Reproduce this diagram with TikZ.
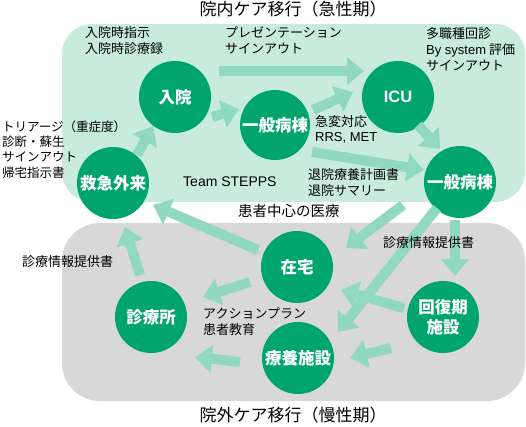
\documentclass[tikz,border=0pt]{standalone}
\usepackage{fontspec}
\setmainfont{Noto Sans CJK JP}
\newfontfamily\latin{Liberation Sans}
\usetikzlibrary{arrows.meta}
\definecolor{acutebg}{RGB}{200,235,221}
\definecolor{chronicbg}{RGB}{216,216,216}
\definecolor{flowgreen}{RGB}{145,216,192}
\definecolor{wardgreen}{RGB}{0,165,110}

\begin{document}
\begin{tikzpicture}[x=1pt, y=-1pt,
    ward/.style={circle, fill=wardgreen, minimum size=72pt, inner sep=0pt, text=white,
      align=center, font=\fontsize{16.5}{20}\selectfont\bfseries},
    flow/.style={flowgreen, line width=10pt, -{Triangle[length=17pt, width=27pt]}},
    note/.style={anchor=north west, inner sep=0pt, align=left,
      font=\fontsize{13}{15.5}\selectfont},
    title/.style={anchor=base, inner sep=0pt, font=\fontsize{17}{20}\selectfont}]
    \useasboundingbox (0,0) rectangle (526,427);

    % care areas
    \fill[acutebg, rounded corners=30pt] (62,24) rectangle (525,202);
    \fill[chronicbg, rounded corners=38pt] (62,223) rectangle (525,401);

    % wards and facilities
    \node[ward] (nyuin)   at (175,97)  {入院};
    \node[ward, minimum size=70pt] (ippan) at (275,125) {一般病棟};
    \node[ward] (icu)     at (398,97)  {\latin ICU};
    \node[ward] (ippanR)  at (460,182) {一般病棟};
    \node[ward] (kyukyu)  at (113,183) {救急外来};
    \node[ward] (zaitaku) at (297,267) {在宅};
    \node[ward] (shinryo) at (151,317) {診療所};
    \node[ward] (kaifuku) at (443,317) {回復期\\施設};
    \node[ward] (ryoyo)   at (298,358) {療養施設};

    % transitions inside the hospital
    \draw[flow] ([shift={(24,-28)}]kyukyu.center) -- ([shift={(-22,29)}]nyuin.center);
    \draw[flow] ([shift={(37,20)}]nyuin.center) -- ([shift={(-36,-16)}]ippan.center);
    \draw[flow] ([shift={(44,-26)}]nyuin.center) -- ([shift={(-34,-26)}]icu.center);
    \draw[flow] ([shift={(38,-15)}]ippan.center) -- ([shift={(-45,-5)}]icu.center);
    \draw[flow] ([shift={(20,28)}]icu.center) -- ([shift={(-20,-33)}]ippanR.center);
    \draw[flow] ([shift={(37,27)}]ippan.center) -- ([shift={(-36,-12)}]ippanR.center);

    % discharge
    \draw[flow] ([shift={(-57,23)}]ippanR.center) -- ([shift={(49,-19)}]zaitaku.center);
    \draw[flow] ([shift={(-23,26)}]ippanR.center) -- ([shift={(40,-26)}]ryoyo.center);
    \draw[flow] ([shift={(-5,38)}]ippanR.center) -- ([shift={(12,-41)}]kaifuku.center);

    % transitions outside the hospital
    \draw[flow] ([shift={(-39,-9)}]kaifuku.center) -- ([shift={(44,23)}]zaitaku.center);
    \draw[flow] ([shift={(-52,31)}]kaifuku.center) -- ([shift={(52,0)}]ryoyo.center);
    \draw[flow] ([shift={(-39,-17)}]zaitaku.center) -- ([shift={(40,22)}]kyukyu.center);
    \draw[flow] ([shift={(-47,15)}]zaitaku.center) -- ([shift={(52,-20)}]shinryo.center);
    \draw[flow] ([shift={(-58,4)}]ryoyo.center) -- ([shift={(44,40)}]shinryo.center);
    \draw[flow] ([shift={(-11,-42)}]shinryo.center) -- ([shift={(12,44)}]kyukyu.center);

    % titles
    \node[title] (acute)   at (293,16) {院内ケア移行（急性期）};
    \node[title] (chronic) at (293,421) {院外ケア移行（慢性期）};

    % notes
    \node[note] (admnote)   at (85,26.5)  {入院時指示\\入院時診療録};
    \node[note] (presnote)  at (225,26.5) {プレゼンテーション\\サインアウト};
    \node[note, font=\fontsize{13}{16}\selectfont] (icunote) at (426,27.5)
      {多職種回診\\{\latin By system} 評価\\サインアウト};
    \node[note, font=\fontsize{12.5}{15.3}\selectfont] (triage) at (2,120.5)
      {トリアージ（重症度）\\診断・蘇生\\サインアウト\\帰宅指示書};
    \node[note, font=\fontsize{13}{15}\selectfont] (rrsnote) at (315,115.5)
      {急変対応\\{\latin RRS, MET}};
    \node[note, anchor=base west, font=\fontsize{14}{16}\selectfont\latin] (team)
      at (183,187) {Team STEPPS};
    \node[note] (dischnote) at (308,168.5) {退院療養計画書\\退院サマリー};
    \node[note, anchor=base west, font=\fontsize{14.5}{17}\selectfont] (center)
      at (238,217) {患者中心の医療};
    \node[note, anchor=base west] (infoL) at (22,266)  {診療情報提供書};
    \node[note, anchor=base west] (infoR) at (383,247) {診療情報提供書};
    \node[note] (actnote)   at (203,307.5) {アクションプラン\\患者教育};
\end{tikzpicture}
\end{document}
